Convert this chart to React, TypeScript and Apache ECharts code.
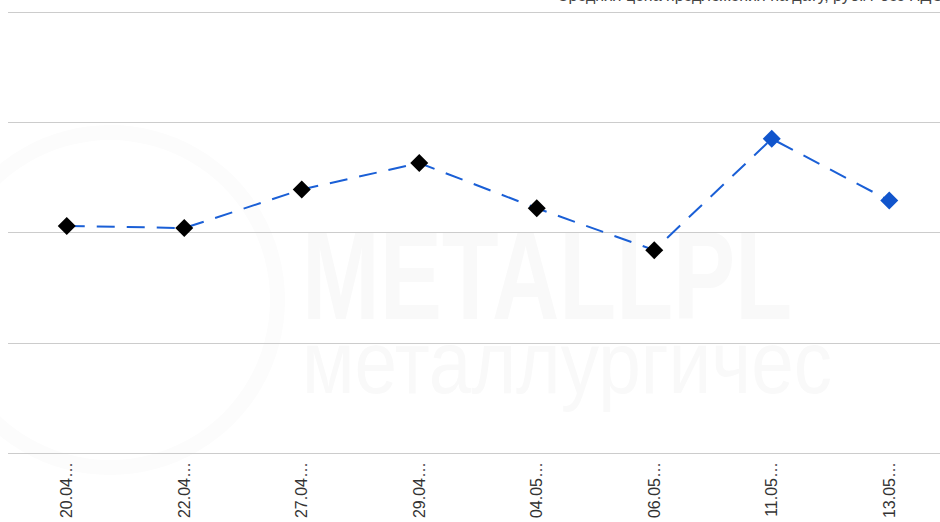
import React, { useEffect, useRef } from "react";
import * as echarts from "echarts";

const categories = ["20.04…", "22.04…", "27.04…", "29.04…", "04.05…", "06.05…", "11.05…", "13.05…"];
const prices = [70300, 70200, 71950, 73150, 71100, 69200, 74250, 71450];
const latestPointCount = 2;
const titleText = "Средняя цена предложения на дату, руб./т без НДС";

export default function App() {
  const ref = useRef<HTMLDivElement>(null);
  useEffect(() => {
    if (!ref.current) return;
    const chart = echarts.init(ref.current, null, { renderer: "svg" });
    const firstBlue = prices.length - latestPointCount;
    chart.setOption({
      animation: false,
      backgroundColor: "#ffffff",
      textStyle: { fontFamily: "Liberation Sans, Arial, sans-serif" },
      graphic: [
        {
          type: "text",
          x: 302,
          y: 212,
          z: -10,
          scaleX: 0.74,
          silent: true,
          style: {
            text: "METALLPL",
            fontSize: 126,
            fontWeight: "bold",
            fontFamily: "Liberation Sans, Arial, sans-serif",
            fill: "#f9f9f9",
            verticalAlign: "top",
          },
        },
        {
          type: "text",
          x: 302,
          y: 318,
          z: -10,
          scaleX: 0.86,
          silent: true,
          style: {
            text: "металлургичес",
            fontSize: 89,
            fontFamily: "Liberation Sans, Arial, sans-serif",
            fill: "#f9f9f9",
            verticalAlign: "top",
          },
        },
        {
          type: "ring",
          z: -10,
          silent: true,
          shape: { cx: 110, cy: 300, r: 175, r0: 160 },
          style: { fill: "#fcfcfc" },
        },
        {
          type: "text",
          right: 5,
          y: -13,
          silent: true,
          style: {
            text: titleText,
            fontSize: 16,
            fontFamily: "Liberation Sans, Arial, sans-serif",
            fill: "#444444",
          },
        },
      ],
      grid: { left: 8, top: 12, right: 0, height: 441, containLabel: false },
      xAxis: {
        type: "category",
        data: categories,
        boundaryGap: true,
        axisLine: { show: false },
        axisTick: { show: false },
        axisLabel: {
          rotate: 90,
          margin: 9,
          fontSize: 16,
          color: "#333333",
          interval: 0,
        },
      },
      yAxis: {
        type: "value",
        min: 60000,
        max: 80000,
        interval: 5000,
        axisLabel: { show: false },
        axisLine: { show: false },
        axisTick: { show: false },
        splitLine: { lineStyle: { color: "#cccccc", width: 1 } },
      },
      series: [
        {
          type: "line",
          data: prices.map((v, i) => ({
            value: v,
            itemStyle: { color: i >= firstBlue ? "#1155cc" : "#000000" },
          })),
          symbol: "diamond",
          symbolSize: 18,
          lineStyle: { color: "#1a5fd6", width: 2, type: [18, 12] },
          itemStyle: { color: "#000000" },
          z: 5,
        },
      ],
    });
    return () => chart.dispose();
  }, []);
  return (
    <div
      ref={ref}
      style={{ position: "fixed", left: 0, top: 0, width: 948, height: 522 }}
    />
  );
}
